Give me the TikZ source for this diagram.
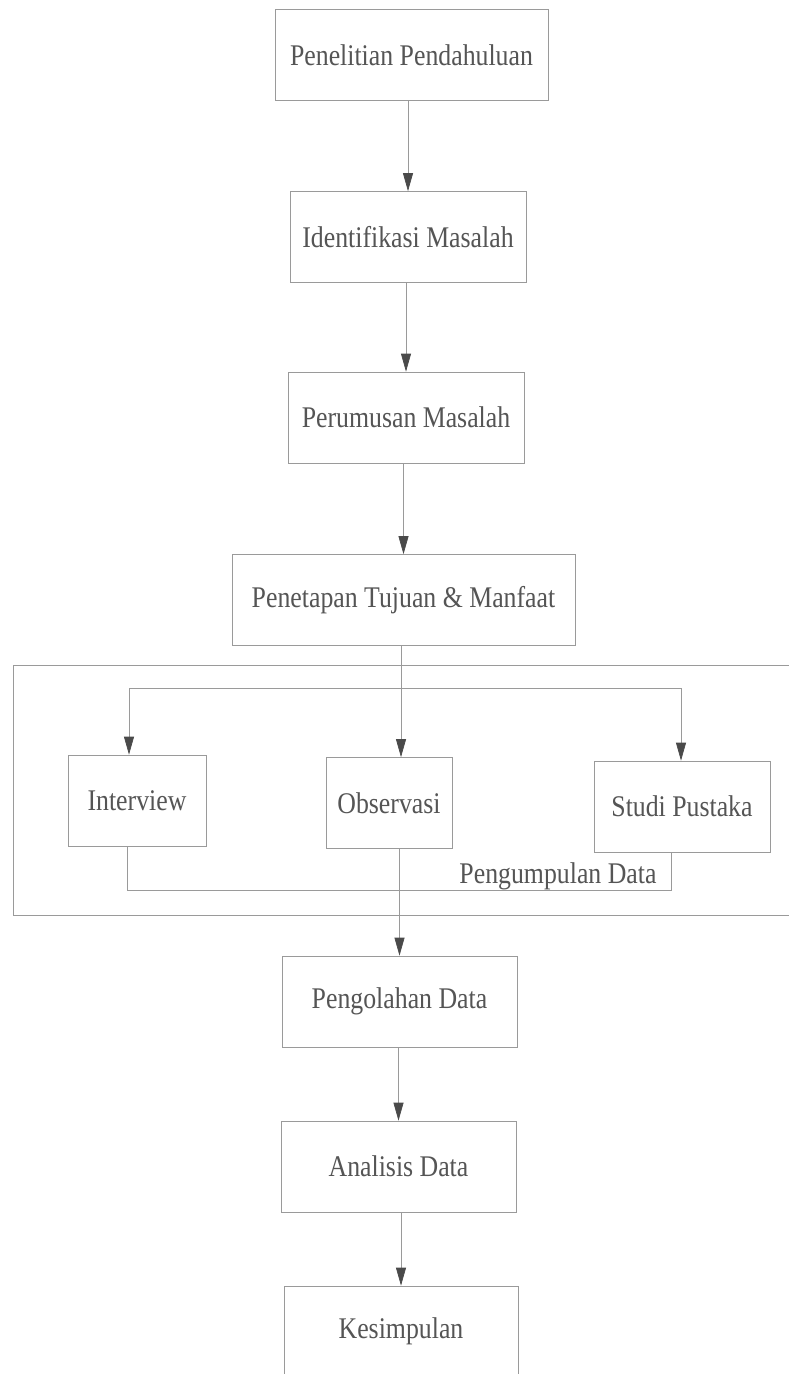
\documentclass[tikz,border=0pt]{standalone}
\usepackage{fontspec}
\setmainfont{Liberation Serif}[FakeStretch=0.86]
\usetikzlibrary{arrows.meta}
\definecolor{linegray}{HTML}{9A9A9A}
\definecolor{textgray}{HTML}{555555}
\definecolor{headgray}{HTML}{4A4A4A}
\newcommand{\mainsz}{\fontsize{30}{34}\selectfont}
\begin{document}
\begin{tikzpicture}[x=1pt,y=-1pt,
  box/.style={draw=linegray, line width=0.7pt, minimum height=91pt, inner sep=0pt, text=textgray, font=\mainsz},
  lbl/.style={inner sep=0pt, text=textgray, font=\mainsz},
  conn/.style={draw=linegray, line width=0.7pt},
  arr/.style={conn, -{Triangle[length=18pt,width=10pt,color=headgray]}}]
\useasboundingbox (0,0) rectangle (789,1374);
\clip (0,0) rectangle (789,1374);
\fill[white] (0,0) rectangle (789,1374);

\node[box, minimum width=273pt] (n1) at (411.5,55) {Penelitian Pendahuluan};
\node[box, minimum width=236pt] (n2) at (408,237) {Identifikasi Masalah};
\node[box, minimum width=236pt] (n3) at (406,417.5) {Perumusan Masalah};
\node[box, minimum width=343pt] (n4) at (403.5,600) {Penetapan Tujuan \& Manfaat};

\node[box, minimum width=138pt] (int) at (137,800.5) {Interview};
\node[box, minimum width=126pt] (obs) at (389,803) {Observasi};
\node[box, minimum width=176pt] (stu) at (682,806.5) {Studi Pustaka};
\node[lbl] (pd) at (558,876) {Pengumpulan Data};

\node[box, minimum width=235pt] (peng) at (399.5,1001.5) {Pengolahan Data};
\node[box, minimum width=235pt] (anal) at (398.5,1166.5) {Analisis Data};
\node[box, minimum width=234pt] (kes) at (401,1331.5) {Kesimpulan};

% container
\draw[conn] (792,665) -- (13,665) -- (13,915) -- (792,915);

% main flow
\draw[arr] (n2.north |- n1.south) -- (n2.north);
\draw[arr] (n3.north |- n2.south) -- (n3.north);
\draw[arr] (n4.north |- n3.south) -- (n4.north);
\coordinate (vx) at (401,0);
\draw[arr] (vx |- n4.south) -- (vx |- obs.north);

% branches
\coordinate (bl) at (129,688);
\coordinate (br) at (681,688);
\draw[conn] (bl) -- (br);
\draw[arr] (bl) -- (bl |- int.north);
\draw[arr] (br) -- (br |- stu.north);

% collection line
\coordinate (bb1) at (127,890);
\coordinate (bb2) at (671,890);
\draw[conn] (int.south -| bb1) -- (bb1) -- (bb2) -- (stu.south -| bb2);

\draw[arr] (obs.south -| peng.north) -- (peng.north);
\draw[arr] (anal.north |- peng.south) -- (anal.north);
\draw[arr] (kes.north |- anal.south) -- (kes.north);
\end{tikzpicture}
\end{document}
